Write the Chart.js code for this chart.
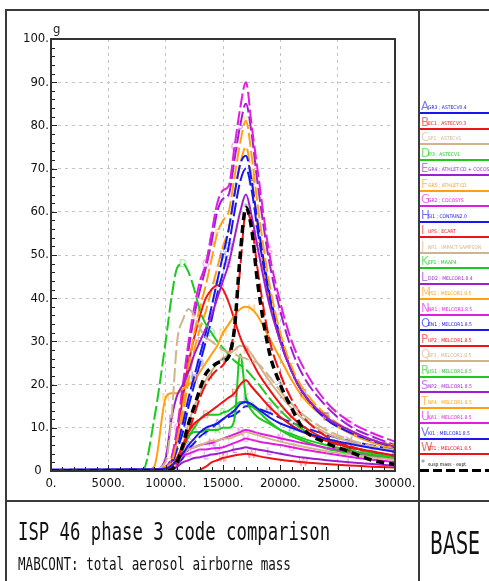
<!DOCTYPE html>
<html>
<head>
<meta charset="utf-8">
<script src="https://cdn.jsdelivr.net/npm/chart.js@4.4.1/dist/chart.umd.min.js"></script>
<style>
	html, body { margin: 0; padding: 0; background: #fff; }
	body { width: 489px; height: 581px; position: relative; overflow: hidden; font-family: 'DejaVu Sans Condensed', 'DejaVu Sans', sans-serif; }
	#plot { position: absolute; left: 0; top: 0; }
	.rule { position: absolute; background: #3a3a3a; }
	#legend { position: absolute; left: 420px; top: 0; width: 69px; height: 500px; overflow: hidden; }
	.entry { position: absolute; left: 0; width: 69px; height: 16px; }
	.entry .key { position: absolute; left: 1px; top: 0; font-size: 13px; line-height: 13px; font-weight: 200; opacity: 0.6; }
	.entry .name { position: absolute; left: 8px; top: 5px; font-size: 5px; line-height: 6px; white-space: nowrap; }
	.entry .line { position: absolute; left: 0; right: 0; top: 13px; height: 2px; }
	.caption { position: absolute; white-space: nowrap; color: #111; }
	#title { left: 18px; top: 526px; font: 17.3px/17.3px 'DejaVu Sans Mono', monospace; transform-origin: 0 14.6px; transform: scaleY(1.45); }
	#subtitle { left: 18px; top: 560px; font: 12.6px/12.6px 'DejaVu Sans Mono', monospace; transform-origin: 0 10.7px; transform: scaleY(1.45); }
	#base { left: 430px; top: 528px; font: 31.5px/31.5px 'DejaVu Sans Condensed', sans-serif; transform-origin: 0 0; transform: scaleX(0.67); }
</style>
</head>
<body>
<canvas id="plot" width="489" height="581"></canvas>
<div class="rule" style="left:5px;top:9px;width:484px;height:2px"></div>
<div class="rule" style="left:5px;top:9px;width:2px;height:572px"></div>
<div class="rule" style="left:418px;top:9px;width:2px;height:572px"></div>
<div class="rule" style="left:5px;top:500px;width:484px;height:2px"></div>
<div id="legend"></div>
<div class="caption" id="title">ISP 46 phase 3 code comparison</div>
<div class="caption" id="subtitle">MABCONT: total aerosol airborne mass</div>
<div class="caption" id="base">BASE</div>
<script>
// time axis (s) shared by every curve
const times = [0, 8000, 9000, 10000, 10500, 11000, 11500, 12000, 12500, 13000, 13500, 14000, 14500, 15000, 15500, 16000, 16500, 17000, 17500, 18000, 19000, 20000, 21000, 22000, 24000, 26000, 28000, 30000]

// airborne aerosol mass (g), one array per participant
const sA = [0.3, 0.4, 0.4, 0.6, 1.2, 2.5, 4, 6, 7.5, 9, 10, 10.5, 11, 12, 13, 14, 15.5, 16, 15.5, 14.5, 12.5, 11, 10, 9, 7.5, 6.3, 5.3, 4.5]
const sB = [0, 0, 0, 0.3, 1, 3, 6, 9, 11, 12, 13, 14, 15, 16, 17, 18, 20, 21, 19.5, 18, 15, 12.5, 10.5, 9, 7, 5.5, 4.5, 3.6]
const sC = [0.2, 0.3, 0.5, 2, 12, 30, 35, 37.5, 36, 33, 31, 30, 29, 28, 27.5, 27, 26.5, 26, 25.5, 25, 22, 18.5, 15.5, 13, 9.5, 7.3, 5.8, 4.8]
const sD = [0, 0.2, 12, 30, 40, 47, 48, 46, 42, 37, 34, 32, 30, 28.5, 27, 25.5, 24.5, 23.5, 22, 20.5, 17, 14, 11.5, 9.5, 7, 5.3, 4.2, 3.4]
const sE = [0, 0, 0.2, 3, 12, 17.5, 20, 23, 27, 30, 33, 36, 40, 44, 48, 54, 60, 64, 59, 52, 39, 30, 23, 18, 12.5, 9.5, 7.2, 5.6]
const sF = [0.2, 0.3, 0.5, 1, 2, 7, 15, 24, 32, 38, 43, 49, 55, 58, 60, 68, 76, 81, 73, 62, 44, 32, 24, 19, 13, 9.5, 7.2, 5.8]
const sG = [0.2, 0.3, 0.5, 1, 3, 10, 20, 30, 38, 44, 48, 55, 62, 65, 66, 75, 84, 90, 80, 70, 51, 39, 30, 24, 16, 11.5, 8.8, 6.8]
const sH = [0.2, 0.3, 0.5, 0.8, 2, 6, 11, 17, 22, 27, 32, 38, 44, 50, 56, 64, 71, 73, 67, 58, 42, 31, 23, 18, 12, 9, 7, 5.5]
const sI = [0.2, 0.3, 0.4, 0.5, 0.8, 2, 5, 9, 13, 17, 20, 22, 23.5, 24.5, 27, 33, 47, 60, 57, 47, 31, 22.5, 16.5, 12.5, 8, 5.8, 4.4, 3.5]
const sJ = [0, 0, 0, 0, 0.5, 2, 4, 5, 5.5, 6, 6.5, 7, 7, 7.5, 7.5, 8, 8.5, 9, 8.7, 8.3, 7.5, 6.8, 6.2, 5.6, 4.6, 3.8, 3.1, 2.6]
const sK = [0, 0, 0, 0.3, 1, 3, 6, 8, 9, 9, 9.5, 9.5, 9.5, 10, 10, 12, 27, 17, 14, 12.5, 11, 9.5, 8.5, 7.5, 6, 4.8, 3.8, 3.1]
const sL = [0, 0, 0, 0, 0.2, 1, 2, 2.5, 3, 3.2, 3.5, 3.8, 4, 4.3, 4.6, 5, 5.2, 5.5, 5.2, 5, 4.5, 4, 3.5, 3.1, 2.5, 2, 1.6, 1.2]
const sM = [0, 0, 1, 17, 18, 18, 19, 20, 21, 23, 25, 27, 29, 32, 34, 36, 37.5, 38, 37.5, 36, 31, 26, 21, 17, 12, 8.8, 6.6, 5.2]
const sN = [0, 0, 0, 0, 0.5, 2, 4, 5, 5.5, 6, 6.3, 6.5, 7, 7.5, 8, 8.5, 9, 9.5, 9.2, 8.8, 8.2, 7.6, 7, 6.4, 5.4, 4.5, 3.7, 3.1]
const sO = [0.2, 0.3, 0.4, 0.6, 1.5, 5, 9, 15, 20, 25, 30, 35, 41, 46, 52, 60, 67, 70, 65, 56, 41, 30, 23, 18, 12.5, 9.3, 7.2, 5.8]
const sP = [0.2, 0.3, 0.4, 0.5, 2, 8, 17, 25, 31, 36, 40, 42, 43, 42, 39, 35, 31, 28, 25.5, 23, 19, 15.5, 12.5, 10.3, 7.3, 5.6, 4.4, 3.5]
const sQ = [0, 0, 0, 0.2, 0.5, 2, 6, 11, 15, 18, 21, 23, 25, 26, 27, 28, 29, 28.5, 27, 25, 21, 17.5, 14.5, 12, 8.8, 6.8, 5.4, 4.4]
const sR = [0, 0, 0, 0.2, 0.5, 2, 5, 8, 10, 12, 13, 13, 13, 13.5, 14, 15, 16, 16, 15, 14, 11.5, 9.5, 8, 7, 5.2, 4.1, 3.4, 2.9]
const sS = [0.2, 0.3, 0.5, 1, 3, 9, 18, 28, 36, 42, 47, 53, 60, 63, 64, 72, 80, 85, 78, 67, 49, 37, 28, 22, 15, 10.5, 8, 6]
const sT = [0.2, 0.3, 0.5, 0.8, 2, 6, 13, 21, 28, 33, 37, 42, 47, 52, 56, 64, 71, 75, 68, 57, 40, 30, 23, 18, 12.5, 9, 6.8, 5.2]
const sU = [0, 0, 0, 0, 0.5, 2, 3.5, 4, 4.5, 5, 5, 5.2, 5.3, 5.5, 6, 6.5, 7, 7.5, 7.2, 6.9, 6.4, 6, 5.5, 5, 4.1, 3.3, 2.6, 2.1]
const sV = [0.3, 0.3, 0.3, 0.4, 0.5, 1.5, 3, 5, 6.5, 8, 9, 10, 11, 12, 12.5, 13, 14, 15, 15, 14.5, 13.5, 12.3, 11.2, 10.2, 8.4, 7, 5.9, 5]
const sW = [0, 0, 0, 0, 0, 0, 0, 0, 0, 0.3, 1, 2, 2.5, 3, 3.3, 3.6, 3.8, 4, 3.8, 3.5, 3, 2.6, 2.3, 2, 1.6, 1.3, 1, 0.8]
const expt = [0, 0, 0, 0, 0.3, 2, 6, 11, 15, 19, 22.5, 24, 25, 25.5, 26.5, 33, 50, 61, 56, 44, 28, 20, 14.5, 9.8, 6.5, 4.5, 2.5, 1.5]

const keys = ['A', 'B', 'C', 'D', 'E', 'F', 'G', 'H', 'I', 'J', 'K', 'L', 'M', 'N', 'O', 'P', 'Q', 'R', 'S', 'T', 'U', 'V', 'W']
const codes = ['GR3 ; ASTECV0.4', 'EC1 ; ASTECV0.3', 'SP1 ; ASTECV1', 'IP3 ; ASTECV1', 'GR4 ; ATHLET-CD + COCOSYS', 'GR5 ; ATHLET-CD', 'GR2 ; COCOSYS', 'SI1 ; CONTAIN2.0', 'UPS ; ECART', 'NP1 ; IMPACT-SAMPSON', 'EP1 ; MAAP4', 'DD2 ; MELCOR1.8.4', 'PS1 ; MELCOR1.8.5', 'NR1 ; MELCOR1.8.5', 'EN1 ; MELCOR1.8.5', 'UP2 ; MELCOR1.8.5', 'SP3 ; MELCOR1.8.5', 'US1 ; MELCOR1.8.5', 'NP2 ; MELCOR1.8.5', 'NP4 ; MELCOR1.8.5', 'KA1 ; MELCOR1.8.5', 'KI1 ; MELCOR1.8.5', 'ST1 ; MELCOR1.8.5']
const values = [sA, sB, sC, sD, sE, sF, sG, sH, sI, sJ, sK, sL, sM, sN, sO, sP, sQ, sR, sS, sT, sU, sV, sW]
const exptLabel = 'susp mass - expt'
const yTicks = [0, 10, 20, 30, 40, 50, 60, 70, 80, 90, 100]
const xTicks = [0, 5000, 10000, 15000, 20000, 25000, 30000]
const unitLabel = 'g'

// the plotting package cycles through seven pens
const pens = ['#1818ee', '#ee1414', '#d2b48c', '#1ec81e', '#a01ed2', '#ffa014', '#e01ee0']
const longDash = ['C', 'D', 'F', 'G', 'H', 'I', 'O', 'S', 'T', 'V']

function letterMark(ch, color) {
	const c = document.createElement('canvas')
	c.width = 9
	c.height = 11
	const g = c.getContext('2d')
	g.globalAlpha = 0.5
	g.fillStyle = color
	g.font = '10px "DejaVu Sans"'
	g.textAlign = 'center'
	g.textBaseline = 'middle'
	g.fillText(ch, 4.5, 6)
	return c
}

const datasets = [{
	label: exptLabel,
	data: times.map((t, i) => ({ x: t, y: expt[i] })),
	borderColor: '#000',
	borderWidth: 3.5,
	borderDash: [8, 5],
	pointStyle: letterMark('*', '#000'),
	pointRadius: ctx => (ctx.dataIndex % 4 === 1 && ctx.raw.y > 1 ? 3 : 0)
}]

keys.forEach((k, n) => {
	const color = pens[n % pens.length]
	datasets.push({
		label: k + ' ' + codes[n],
		data: times.map((t, i) => ({ x: t, y: values[n][i] })),
		borderColor: color,
		borderWidth: 2,
		borderDash: longDash.includes(k) ? [14, 4] : [],
		pointStyle: letterMark(k, color),
		pointRadius: ctx => ((ctx.dataIndex + n * 2) % 5 === 2 && ctx.raw.y > 0.8 ? 3 : 0)
	})
})

const frame = {
	id: 'frame',
	afterDraw(chart) {
		const { ctx, chartArea: a, scales: { x, y } } = chart
		ctx.save()
		ctx.strokeStyle = '#222'
		ctx.lineWidth = 1
		ctx.beginPath()
		for (let v = 0; v <= 100; v += 2) {
			const py = Math.round(y.getPixelForValue(v)) + 0.5
			ctx.moveTo(a.left, py)
			ctx.lineTo(a.left + (v % 10 === 0 ? 6 : 4), py)
		}
		for (let v = 0; v <= 30000; v += 1000) {
			const px = Math.round(x.getPixelForValue(v)) + 0.5
			ctx.moveTo(px, a.bottom)
			ctx.lineTo(px, a.bottom - (v % 5000 === 0 ? 6 : 4))
		}
		ctx.stroke()
		ctx.strokeStyle = '#333'
		ctx.lineWidth = 2
		ctx.strokeRect(a.left, a.top, a.right - a.left, a.bottom - a.top)
		ctx.fillStyle = '#222'
		ctx.font = '13px "DejaVu Sans Condensed"'
		ctx.fillText(unitLabel, a.left + 2, a.top - 6)
		ctx.restore()
	}
}

const tickFont = { family: '"DejaVu Sans Condensed", sans-serif', size: 13 }

new Chart(document.getElementById('plot'), {
	type: 'line',
	data: { datasets },
	options: {
		responsive: false,
		animation: false,
		devicePixelRatio: 1,
		layout: { padding: { top: 39, right: 94, bottom: 80, left: 0 } },
		elements: { line: { tension: 0.25, cubicInterpolationMode: 'monotone' } },
		plugins: { legend: { display: false }, tooltip: { enabled: false } },
		scales: {
			x: {
				type: 'linear', min: 0, max: 30000,
				afterFit: s => { s.height = 30 },
				afterBuildTicks: s => { s.ticks = xTicks.map(v => ({ value: v })) },
				ticks: { font: tickFont, color: '#111', padding: 5, maxRotation: 0, callback: v => v + '.' },
				grid: { color: '#c4c4c4', drawTicks: false },
				border: { display: false, dash: [3, 4] }
			},
			y: {
				type: 'linear', min: 0, max: 100,
				afterFit: s => { s.width = 51 },
				afterBuildTicks: s => { s.ticks = yTicks.map(v => ({ value: v })) },
				ticks: { font: tickFont, color: '#111', padding: 2, callback: v => (v === 0 ? '0  ' : v + '.') },
				grid: { color: '#c4c4c4', drawTicks: false },
				border: { display: false, dash: [3, 4] }
			}
		}
	},
	plugins: [frame]
})

// key panel on the right
const legend = document.getElementById('legend')
const rowTop = n => 99 + 15.5 * n
keys.forEach((k, n) => {
	const color = pens[n % pens.length]
	const row = document.createElement('div')
	row.className = 'entry'
	row.style.top = rowTop(n) + 'px'
	row.innerHTML = `<span class="key" style="color:${color}">${k}</span><span class="name" style="color:${color}">${codes[n]}</span><div class="line" style="background:${color}"></div>`
	legend.appendChild(row)
})
const last = document.createElement('div')
last.className = 'entry'
last.style.top = rowTop(keys.length) + 'px'
last.innerHTML = `<span class="key" style="color:#000;font-size:9px;top:1px">*</span><span class="name" style="color:#000">${exptLabel}</span><div class="line" style="height:3px;background:repeating-linear-gradient(90deg,#000 0 9px,transparent 9px 13px)"></div>`
legend.appendChild(last)
</script>
</body>
</html>
